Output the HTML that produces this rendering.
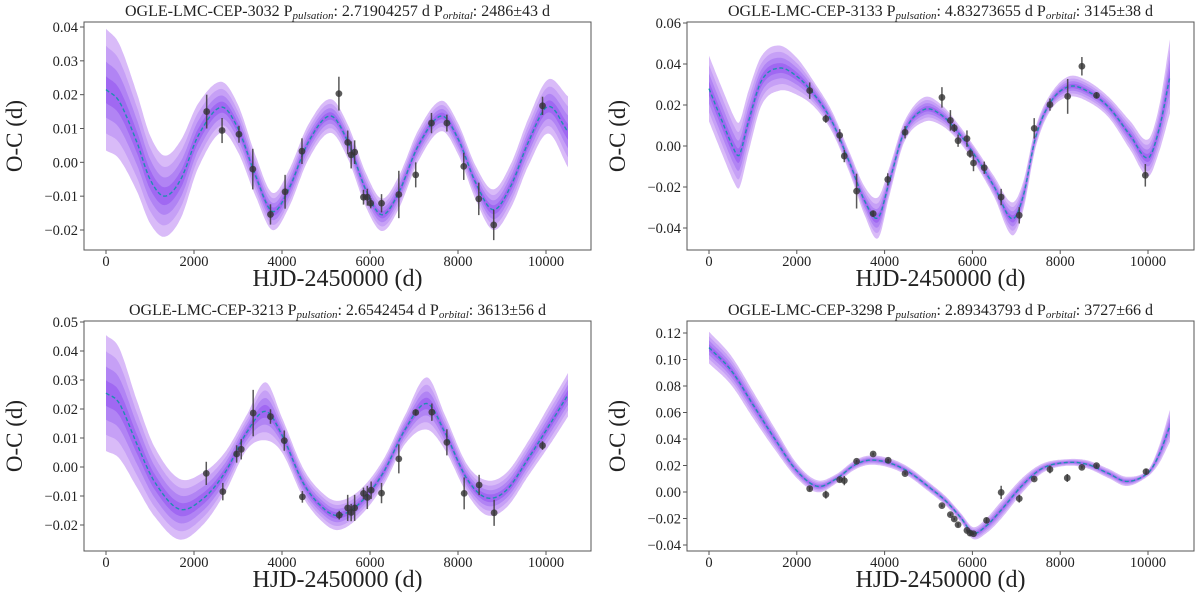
<!DOCTYPE html>
<html><head><meta charset="utf-8"><style>
html,body{margin:0;padding:0;background:#fff;}
svg{display:block;font-family:"Liberation Serif",serif;}
</style></head><body>
<svg id="fig" width="1200" height="598" viewBox="0 0 1200 598" xmlns="http://www.w3.org/2000/svg"></svg>
<script>
// ---------- Panel 1: OGLE-LMC-CEP-3032 ----------
const p1CurveX = [0,300,700,1000,1330,1700,2100,2620,3000,3400,3780,4150,4600,5100,5500,5900,6270,6650,7100,7620,8000,8400,8800,9200,9600,10050,10500];
const p1CurveY = [0.0215,0.018,0.006,-0.005,-0.010,-0.005,0.008,0.0163,0.010,-0.004,-0.0145,-0.008,0.006,0.0137,0.006,-0.008,-0.0155,-0.009,0.005,0.0137,0.007,-0.006,-0.014,-0.007,0.006,0.0165,0.009];
const p1Sigma = [0.018,0.017,0.0145,0.013,0.012,0.0115,0.0095,0.0075,0.007,0.006,0.0055,0.0055,0.0052,0.005,0.005,0.005,0.0048,0.0048,0.0046,0.0045,0.0046,0.005,0.006,0.0065,0.007,0.008,0.0105];
const p1PtX = [2288,2638,3022,3336,3738,4070,4454,5293,5493,5572,5651,5852,5939,6017,6262,6655,7039,7397,7747,8131,8472,8812,9921];
const p1PtY = [0.015,0.0094,0.0083,-0.002,-0.0154,-0.0087,0.0033,0.0203,0.0059,0.0022,0.003,-0.0103,-0.0103,-0.0121,-0.0121,-0.0095,-0.0037,0.0116,0.0116,-0.0012,-0.0108,-0.0185,0.0167];
const p1Err = [0.005,0.0037,0.0025,0.006,0.003,0.005,0.0038,0.005,0.0035,0.004,0.0035,0.0022,0.0025,0.0015,0.0027,0.007,0.0037,0.003,0.0025,0.004,0.0048,0.0045,0.0027];
const p1YTicks = [-0.02,-0.01,0.00,0.01,0.02,0.03,0.04];
// ---------- Panel 2: OGLE-LMC-CEP-3133 ----------
const p2CurveX = [0,300,600,700,900,1200,1600,2000,2400,2800,3200,3550,3850,4100,4450,4900,5300,5700,6100,6500,6900,7150,7450,7800,8200,8600,9100,9600,10000,10250,10500];
const p2CurveY = [0.028,0.012,-0.003,-0.004,0.012,0.032,0.038,0.034,0.025,0.012,-0.008,-0.027,-0.035,-0.018,0.007,0.0178,0.015,0.006,-0.006,-0.020,-0.0355,-0.025,0.005,0.022,0.029,0.027,0.019,0.005,-0.0058,0.008,0.034];
const p2Sigma = [0.016,0.016,0.016,0.016,0.015,0.012,0.011,0.009,0.006,0.005,0.005,0.007,0.010,0.007,0.005,0.006,0.005,0.004,0.004,0.005,0.008,0.007,0.005,0.004,0.005,0.005,0.005,0.007,0.009,0.011,0.018];
const p2PtX = [2294,2662,2977,3082,3362,3739,4072,4466,5306,5499,5587,5674,5876,5946,6025,6270,6655,7067,7408,7767,8170,8494,8827,9939];
const p2PtY = [0.027,0.0133,0.0052,-0.0049,-0.022,-0.033,-0.0163,0.0067,0.0237,0.0125,0.0088,0.0026,0.0036,-0.0037,-0.0083,-0.0106,-0.0249,-0.0338,0.0086,0.0202,0.0242,0.0389,0.0247,-0.0143];
const p2Err = [0.004,0.002,0.003,0.003,0.0085,0.0015,0.003,0.003,0.005,0.005,0.002,0.003,0.004,0.002,0.004,0.003,0.004,0.004,0.005,0.003,0.0085,0.0045,0.0015,0.0055];
const p2YTicks = [-0.04,-0.02,0.00,0.02,0.04,0.06];
// ---------- Panel 3: OGLE-LMC-CEP-3213 ----------
const p3CurveX = [0,300,700,1100,1660,2200,2700,3200,3625,4000,4500,5000,5330,5800,6300,6800,7290,7700,8200,8650,9100,9600,10100,10500];
const p3CurveY = [0.0255,0.022,0.008,-0.005,-0.0145,-0.011,-0.002,0.012,0.0192,0.011,-0.006,-0.015,-0.0166,-0.012,-0.002,0.013,0.0219,0.012,-0.004,-0.0106,-0.008,0.003,0.015,0.0249];
const p3Sigma = [0.020,0.019,0.015,0.012,0.0105,0.009,0.007,0.006,0.010,0.006,0.005,0.005,0.005,0.0045,0.0045,0.005,0.009,0.006,0.005,0.006,0.006,0.006,0.007,0.0075];
const p3PtX = [2279,2655,2969,3074,3345,3738,4052,4463,5301,5493,5572,5651,5852,5939,6026,6262,6655,7039,7406,7747,8140,8480,8821,9921];
const p3PtY = [-0.0022,-0.0085,0.0045,0.0061,0.0186,0.0174,0.0091,-0.0103,-0.0166,-0.0141,-0.0157,-0.0141,-0.0091,-0.0105,-0.008,-0.009,0.0028,0.0188,0.0189,0.0085,-0.0091,-0.0062,-0.0158,0.0074];
const p3Err = [0.004,0.003,0.003,0.0035,0.008,0.0025,0.0035,0.002,0.0015,0.0045,0.003,0.0045,0.002,0.004,0.003,0.0035,0.005,0.001,0.003,0.0045,0.0055,0.0035,0.0045,0.0015];
const p3YTicks = [-0.02,-0.01,0.00,0.01,0.02,0.03,0.04,0.05];
// ---------- Panel 4: OGLE-LMC-CEP-3298 ----------
const p4CurveX = [0,500,1000,1500,2000,2470,2900,3300,3650,4100,4530,5000,5400,5750,6015,6300,6630,7150,7600,8120,8600,9100,9520,10000,10250,10500];
const p4CurveY = [0.109,0.092,0.066,0.040,0.016,0.0043,0.010,0.020,0.024,0.022,0.0156,0.004,-0.007,-0.020,-0.031,-0.026,-0.0146,0.0055,0.018,0.0222,0.021,0.014,0.008,0.0144,0.028,0.050];
const p4Sigma = [0.012,0.011,0.010,0.008,0.0055,0.0045,0.0035,0.0035,0.0035,0.0035,0.0035,0.0035,0.0035,0.0035,0.0045,0.0055,0.0065,0.0055,0.0035,0.0025,0.003,0.0035,0.0035,0.0025,0.0065,0.012];
const p4PtX = [2294,2662,2977,3082,3362,3739,4081,4466,5306,5499,5587,5674,5876,5946,6025,6322,6655,7067,7408,7767,8161,8494,8827,9956];
const p4PtY = [0.0025,-0.002,0.0093,0.0086,0.0232,0.0287,0.0239,0.0139,-0.0103,-0.0171,-0.0204,-0.0247,-0.029,-0.031,-0.0315,-0.0214,-0.0003,-0.005,0.0098,0.0171,0.0106,0.0186,0.0199,0.0154];
const p4Err = [0.0015,0.003,0.0015,0.0035,0.001,0.001,0.001,0.001,0.001,0.001,0.001,0.0015,0.001,0.002,0.001,0.002,0.005,0.003,0.001,0.003,0.003,0.001,0.001,0.002];
const p4YTicks = [-0.04,-0.02,0.00,0.02,0.04,0.06,0.08,0.10,0.12];
const xTicks = [0,2000,4000,6000,8000,10000];

const NS = "http://www.w3.org/2000/svg";
const svg = document.getElementById('fig');
function mk(tag, attrs, parent){const e=document.createElementNS(NS,tag);for(const k in attrs)e.setAttribute(k,attrs[k]);(parent||svg).appendChild(e);return e;}
function interp(xs, ys, x){
  let i=0; while(i<xs.length-2 && x>xs[i+1]) i++;
  const x0=xs[i],x1=xs[i+1],y0=ys[i],y1=ys[i+1],h=x1-x0;
  const sl=(a)=>{ if(a===0) return (ys[1]-ys[0])/(xs[1]-xs[0]); if(a===xs.length-1) return (ys[a]-ys[a-1])/(xs[a]-xs[a-1]); return (ys[a+1]-ys[a-1])/(xs[a+1]-xs[a-1]); };
  const m0=sl(i),m1=sl(i+1); const t=(x-x0)/h;
  const h00=2*t*t*t-3*t*t+1,h10=t*t*t-2*t*t+t,h01=-2*t*t*t+3*t*t,h11=t*t*t-t*t;
  return h00*y0+h10*h*m0+h01*y1+h11*h*m1;
}
const panels = [
  {id:'p1', title:'OGLE-LMC-CEP-3032', pp:'2.71904257', po:'2486±43', l:84,r:591,t:22,b:250, x0:106,x1:546, ya:0.04,yapx:27, yb:-0.02,ybpx:230, cx:p1CurveX,cy:p1CurveY,sg:p1Sigma,px:p1PtX,py:p1PtY,pe:p1Err,yt:p1YTicks,dec:2},
  {id:'p2', title:'OGLE-LMC-CEP-3133', pp:'4.83273655', po:'3145±38', l:687,r:1194,t:22,b:250, x0:709,x1:1148, ya:0.06,yapx:23, yb:-0.04,ybpx:228, cx:p2CurveX,cy:p2CurveY,sg:p2Sigma,px:p2PtX,py:p2PtY,pe:p2Err,yt:p2YTicks,dec:2},
  {id:'p3', title:'OGLE-LMC-CEP-3213', pp:'2.6542454', po:'3613±56', l:84,r:591,t:321,b:551, x0:106,x1:546, ya:0.05,yapx:322, yb:-0.02,ybpx:525, cx:p3CurveX,cy:p3CurveY,sg:p3Sigma,px:p3PtX,py:p3PtY,pe:p3Err,yt:p3YTicks,dec:2},
  {id:'p4', title:'OGLE-LMC-CEP-3298', pp:'2.89343793', po:'3727±66', l:687,r:1194,t:321,b:551, x0:709,x1:1148, ya:0.12,yapx:333, yb:-0.04,ybpx:545, cx:p4CurveX,cy:p4CurveY,sg:p4Sigma,px:p4PtX,py:p4PtY,pe:p4Err,yt:p4YTicks,dec:2}
];
const bandColors = ['#d9bbf8','#c6a0f6','#b184f4','#a068f2'];
const bandLevels = [1,0.72,0.46,0.22];
panels.forEach(P=>{
  const g = mk('g',{});
  
  
  const X = v => P.x0 + (v/10000)*(P.x1-P.x0);
  const Y = v => P.yapx + (v-P.ya)/(P.yb-P.ya)*(P.ybpx-P.yapx);
  const clipId = 'clip-'+P.id;
  const cp = mk('clipPath',{id:clipId},g); mk('rect',{x:P.l,y:P.t,width:P.r-P.l,height:P.b-P.t},cp);
  const plot = mk('g',{'clip-path':'url(#'+clipId+')'},g);
  const xmax = P.cx[P.cx.length-1];
  const samples=[]; for(let x=0;x<=xmax;x+=20) samples.push(x); if(samples[samples.length-1]!==xmax) samples.push(xmax);
  bandLevels.forEach((lv,k)=>{
    let up='',dn='';
    samples.forEach((x,i)=>{const m=interp(P.cx,P.cy,x),s=interp(P.cx,P.sg,x)*lv; up+=(i?'L':'M')+X(x).toFixed(1)+','+Y(m+s).toFixed(1);});
    for(let i=samples.length-1;i>=0;i--){const x=samples[i];const m=interp(P.cx,P.cy,x),s=interp(P.cx,P.sg,x)*lv; dn+='L'+X(x).toFixed(1)+','+Y(m-s).toFixed(1);}
    const band = mk('path',{d:up+dn+'Z',fill:bandColors[k],stroke:'none'},plot);
    
    
  });
  let d=''; samples.forEach((x,i)=>{d+=(i?'L':'M')+X(x).toFixed(1)+','+Y(interp(P.cx,P.cy,x)).toFixed(1);});
  const line = mk('path',{d:d,fill:'none',stroke:'#1f8fb0','stroke-width':1.4,'stroke-dasharray':'4,2.5'},plot);
  
  
  P.px.forEach((xv,i)=>{
    const eb = mk('line',{x1:X(xv),x2:X(xv),y1:Y(P.py[i]-P.pe[i]),y2:Y(P.py[i]+P.pe[i]),stroke:'#3c3c3c','stroke-width':1.5,'stroke-opacity':0.85},plot);
    
    
    const pt = mk('circle',{cx:X(xv),cy:Y(P.py[i]),r:3.4,fill:'#333','fill-opacity':0.8},plot);
    
    
  });
  const frame = mk('rect',{x:P.l,y:P.t,width:P.r-P.l,height:P.b-P.t,fill:'none',stroke:'#555','stroke-width':1},g);
  
  
  xTicks.forEach(v=>{
    mk('line',{x1:X(v),x2:X(v),y1:P.b,y2:P.b+4,stroke:'#555'},g);
    const t = mk('text',{x:X(v),y:P.b+16,'text-anchor':'middle','font-size':14.5,fill:'#222'},g);
    t.textContent = String(v);
    
    
  });
  P.yt.forEach(v=>{
    mk('line',{x1:P.l-4,x2:P.l,y1:Y(v),y2:Y(v),stroke:'#555'},g);
    const t = mk('text',{x:P.l-6,y:Y(v)+5,'text-anchor':'end','font-size':14.5,fill:'#222'},g);
    t.textContent = (v<0?'\u2212':'')+Math.abs(v).toFixed(P.dec);
    
    
  });
  const xl = mk('text',{x:(P.l+P.r)/2,y:P.b+36,'text-anchor':'middle','font-size':24,fill:'#222'},g);
  xl.textContent = 'HJD-2450000 (d)';
  
  
  const ycx = P.l-62, ycy=(P.t+P.b)/2;
  const yl = mk('text',{x:ycx,y:ycy,'text-anchor':'middle','font-size':23,fill:'#222',transform:'rotate(-90 '+ycx+' '+ycy+')'},g);
  yl.textContent = 'O-C (d)';
  
  
  const tt = mk('text',{x:(P.l+P.r)/2,y:P.t-6,'text-anchor':'middle','font-size':16,fill:'#222'},g);
  
  
  const parts = [[P.title+' P',0],['pulsation',1],[': '+P.pp+' d P',0],['orbital',1],[': '+P.po+' d',0]];
  parts.forEach(([s,sub])=>{const ts=mk('tspan',sub?{'font-size':11,'font-style':'italic',dy:3}:{dy:0},tt); if(!sub && tt.childNodes.length>1) ts.setAttribute('dy',-3); ts.textContent=s;});
});
</script>
</body></html>
